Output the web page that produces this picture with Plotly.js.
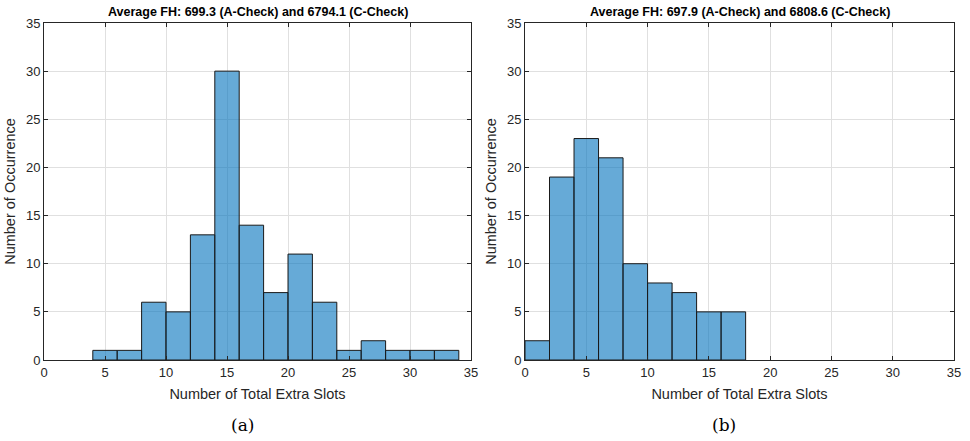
<!DOCTYPE html>
<html>
<head>
<meta charset="utf-8">
<script src="https://cdn.plot.ly/plotly-3.0.1.min.js"></script>
<style>html,body{margin:0;padding:0;background:#fff;}#chart{width:970px;height:441px;}</style>
</head>
<body>
<div id="chart"></div>
<script>
// Left histogram (a): bin left edges (width 2) and counts
const binStartsA = [4, 6, 8, 10, 12, 14, 16, 18, 20, 22, 24, 26, 28, 30, 32];
const countsA    = [1, 1, 6, 5, 13, 30, 14, 7, 11, 6, 1, 2, 1, 1, 1];
// Right histogram (b)
const binStartsB = [0, 2, 4, 6, 8, 10, 12, 14, 16];
const countsB    = [2, 19, 23, 21, 10, 8, 7, 5, 5];
const binWidth = 2;

const titleA = "Average FH: 699.3 (A-Check) and 6794.1 (C-Check)";
const titleB = "Average FH: 697.9 (A-Check) and 6808.6 (C-Check)";
const xLabel = "Number of Total Extra Slots";
const yLabel = "Number of Occurrence";
const xTicks = [0, 5, 10, 15, 20, 25, 30, 35];
const yTicks = [0, 5, 10, 15, 20, 25, 30, 35];

const W = 970, H = 441;
const fill = "rgba(0,114,189,0.6)";
const edge = "#1a1a1a";
const axColor = "#262626";
const sans = "Liberation Sans";

function bar(starts, counts, xa, ya) {
  return {
    type: "bar", x: starts, y: counts, width: starts.map(() => binWidth), offset: 0,
    xaxis: xa, yaxis: ya,
    marker: {color: fill, line: {color: edge, width: 1}},
    hoverinfo: "x+y", showlegend: false
  };
}

function xaxis(domain, anchor) {
  return {
    domain: domain, anchor: anchor, range: [0, 35], tickvals: xTicks,
    ticks: "inside", ticklen: 4, tickcolor: axColor, showline: true, linecolor: axColor, linewidth: 1,
    mirror: "ticks", showgrid: true, gridcolor: "#e0e0e0", gridwidth: 1, zeroline: false,
    tickfont: {family: sans, size: 13, color: axColor},
    title: {text: xLabel, font: {family: sans, size: 14.5, color: axColor}, standoff: 10}
  };
}
function yaxis(domain, anchor) {
  return {
    domain: domain, anchor: anchor, range: [0, 35], tickvals: yTicks,
    ticks: "inside", ticklen: 4, tickcolor: axColor, showline: true, linecolor: axColor, linewidth: 1,
    mirror: "ticks", showgrid: true, gridcolor: "#e0e0e0", gridwidth: 1, zeroline: false,
    tickfont: {family: sans, size: 13, color: axColor},
    title: {text: yLabel, font: {family: sans, size: 14.5, color: axColor}, standoff: 6}
  };
}

const yDom = [1 - 360 / H, 1 - 23 / H];
const layout = {
  width: W, height: H,
  margin: {l: 0, r: 0, t: 0, b: 0},
  paper_bgcolor: "#fff", plot_bgcolor: "#fff",
  bargap: 0,
  xaxis: xaxis([44 / W, 471 / W], "y"),
  yaxis: yaxis(yDom, "x"),
  xaxis2: xaxis([525 / W, 954 / W], "y2"),
  yaxis2: yaxis(yDom, "x2"),
  annotations: [
    {text: "<b>" + titleA + "</b>", xref: "paper", yref: "paper", x: (44 + 471) / 2 / W, y: 1 - 12 / H,
     xanchor: "center", yanchor: "middle", showarrow: false,
     font: {family: sans, size: 12.5, color: "#000"}},
    {text: "<b>" + titleB + "</b>", xref: "paper", yref: "paper", x: (525 + 954) / 2 / W, y: 1 - 12 / H,
     xanchor: "center", yanchor: "middle", showarrow: false,
     font: {family: sans, size: 12.5, color: "#000"}},
    {text: "(a)", xref: "paper", yref: "paper", x: 242 / W, y: 1 - 425 / H, xanchor: "center", yanchor: "middle",
     showarrow: false, font: {family: "DejaVu Serif", size: 17, color: "#000"}},
    {text: "(b)", xref: "paper", yref: "paper", x: 724 / W, y: 1 - 425 / H, xanchor: "center", yanchor: "middle",
     showarrow: false, font: {family: "DejaVu Serif", size: 17, color: "#000"}}
  ]
};

Plotly.newPlot("chart", [bar(binStartsA, countsA, "x", "y"), bar(binStartsB, countsB, "x2", "y2")], layout, {displayModeBar: false, staticPlot: true});
</script>
</body>
</html>
